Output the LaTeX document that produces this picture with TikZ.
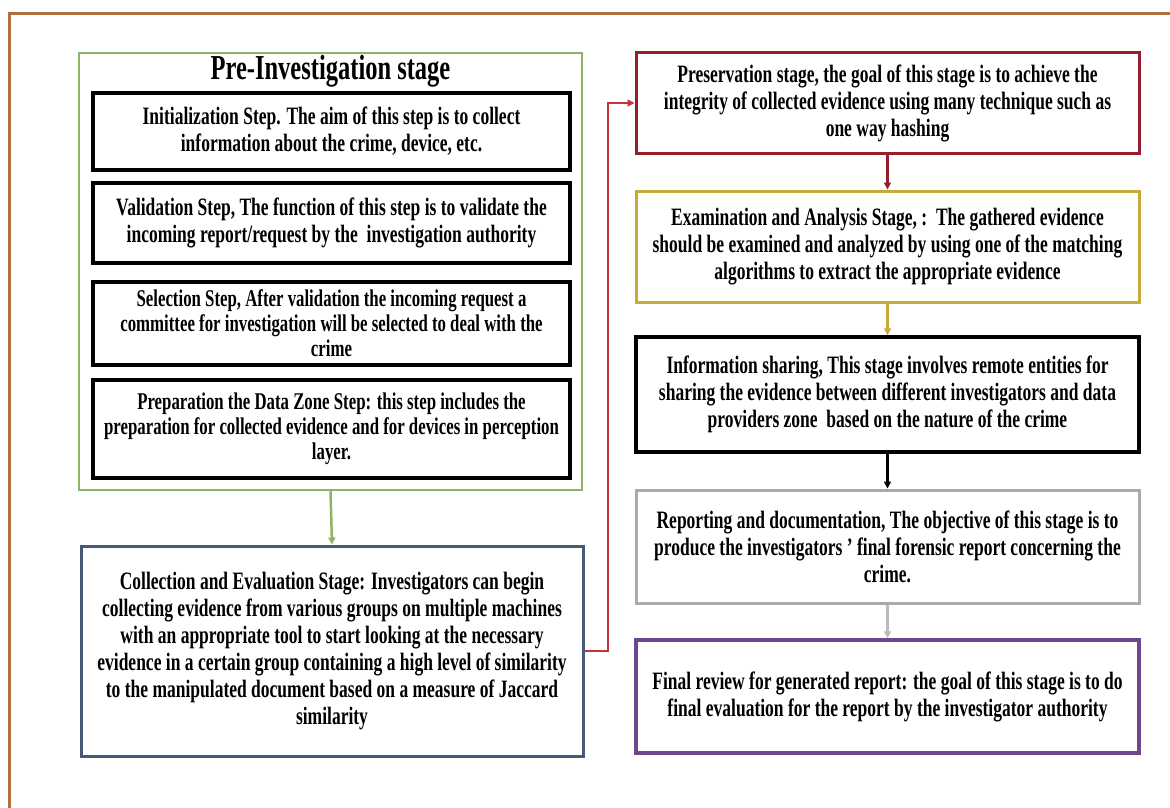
\documentclass[tikz,border=0pt]{standalone}
\usepackage{fontspec}
\setmainfont{Liberation Serif}[FakeStretch=0.7]
\usetikzlibrary{arrows.meta}

\definecolor{framebrown}{RGB}{178,112,66}
\definecolor{stagegreen}{RGB}{140,180,100}
\definecolor{stageblue}{RGB}{70,90,120}
\definecolor{stagered}{RGB}{150,30,45}
\definecolor{linkred}{RGB}{200,50,55}
\definecolor{stagegold}{RGB}{200,170,60}
\definecolor{stagegray}{RGB}{170,170,170}
\definecolor{stagepurple}{RGB}{110,70,140}

\tikzset{
  bodytext/.style={font={\fontsize{25}{27}\selectfont\bfseries}},
  smalltext/.style={font={\fontsize{24}{25}\selectfont\bfseries}},
  stepbox/.style={draw=black, line width=3.5pt, fill=white, inner sep=0pt,
    align=center, bodytext, minimum width=477pt},
  stagebox/.style={draw=#1, line width=3pt, fill=white, inner sep=0pt,
    align=center, bodytext, minimum width=503pt},
  flow/.style={draw=#1, line width=2.5pt, -{Triangle[length=7pt,width=7pt]}},
}

\begin{document}
\begin{tikzpicture}[x=1pt,y=-1pt]
  \useasboundingbox[fill=white] (0,0) rectangle (1170,808);

  % page frame
  \draw[framebrown, line width=3pt] (1170,13.5) -- (9.5,13.5) -- (9.5,808);

  % pre-investigation group
  \node[draw=stagegreen, line width=2.5pt, inner sep=0pt,
        minimum width=503pt, minimum height=437pt] (pre) at (330.5,271.5) {};
  \node[font={\fontsize{35}{38}\selectfont\bfseries}] (pretitle) at (330.5,71) {Pre-Investigation stage};

  \node[stepbox, minimum height=77pt] (init) at (331.5,131.5)
    {Initialization Step. The aim of this step is to collect\\information about the crime, device, etc.};
  \node[stepbox, minimum height=80pt] (valid) at (331.5,223)
    {Validation Step, The function of this step is to validate the\\incoming report/request by the\ \ investigation authority};
  \node[stepbox, minimum height=83pt, smalltext] (select) at (331.5,323.5)
    {Selection Step, After validation the incoming request a\\committee for investigation will be selected to deal with the\\crime};
  \node[stepbox, minimum height=98pt, smalltext] (prep) at (331.5,429)
    {Preparation the Data Zone Step: this step includes the\\preparation for collected evidence and for devices in perception\\layer.};

  % collection stage
  \node[stagebox=stageblue, minimum width=502pt, minimum height=210pt] (coll) at (332,651)
    {Collection and Evaluation Stage: Investigators can begin\\collecting evidence from various groups on multiple machines\\with an appropriate tool to start looking at the necessary\\evidence in a certain group containing a high level of similarity\\to the manipulated document based on a measure of Jaccard\\similarity};

  % right column stages
  \node[stagebox=stagered, minimum height=100pt] (pres) at (887.5,103)
    {Preservation stage, the goal of this stage is to achieve the\\integrity of collected evidence using many technique such as\\one way hashing};
  \node[stagebox=stagegold, minimum height=111pt] (exam) at (887.5,246.5)
    {Examination and Analysis Stage, :\ \ The gathered evidence\\should be examined and analyzed by using one of the matching\\algorithms to extract the appropriate evidence};
  \node[stagebox=black, line width=3.5pt, minimum height=115pt] (info) at (887.5,394.5)
    {Information sharing, This stage involves remote entities for\\sharing the evidence between different investigators and data\\providers zone\ \ based on the nature of the crime};
  \node[stagebox=stagegray, minimum height=113pt] (rep) at (887.5,546.5)
    {Reporting and documentation, The objective of this stage is to\\produce the investigators ' final forensic report concerning the\\crime.};
  \node[stagebox=stagepurple, line width=3.5pt, minimum height=113pt] (fin) at (887.5,696.5)
    {Final review for generated report: the goal of this stage is to do\\final evaluation for the report by the investigator authority};

  % connectors
  \coordinate (bend1) at (608,651);
  \coordinate (bend2) at (608,103);
  \draw[flow=stagegreen] (pre.south) -- (coll.north);
  \draw[flow=linkred] (coll.east) -- (bend1) -- (bend2) -- (pres.west);
  \draw[flow=stagered] (pres.south) -- (exam.north);
  \draw[flow=stagegold] (exam.south) -- (info.north);
  \draw[flow=black] (info.south) -- (rep.north);
  \draw[flow=stagegray!80] (rep.south) -- (fin.north);
\end{tikzpicture}
\end{document}
